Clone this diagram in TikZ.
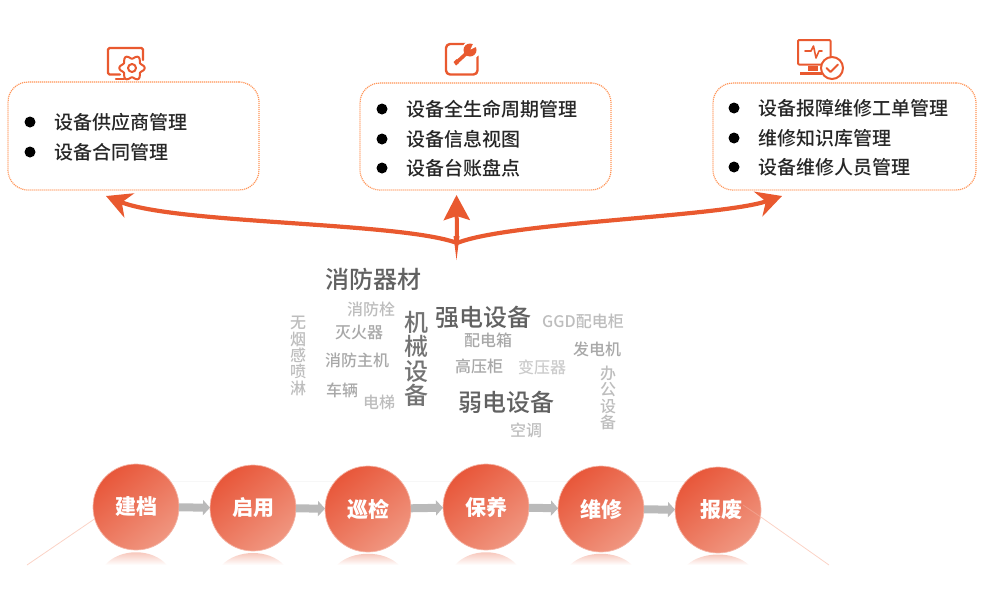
\documentclass[tikz,border=0pt]{standalone}
\usepackage{fontspec}
\usepackage{xcolor}
\setmainfont{Noto Sans CJK SC}
\newfontfamily\medfont{Noto Sans CJK SC Medium}
\usetikzlibrary{arrows.meta,positioning,calc}
\definecolor{swooshred}{HTML}{E9592F}
\definecolor{boxorange}{HTML}{FF9355}
\definecolor{stagedark}{HTML}{E8573A}
\definecolor{stagelight}{HTML}{F09680}
\definecolor{glowred}{HTML}{FBD3C6}
\tikzset{
    infobox/.style={draw=boxorange, line width=1.2pt, dash pattern=on 1.1pt off 0.9pt, rounded corners=20pt},
    bullet/.style={fill=black, circle, inner sep=0pt, minimum size=11pt},
    itemtext/.style={inner sep=0pt, text=black!85, font=\medfont\fontsize{19}{19}\selectfont},
    swoosh/.style={draw=swooshred, line width=4.2pt, -{Stealth[length=25pt,width=26pt,inset=8pt]}},
    stage/.style={circle, minimum size=86pt, inner sep=0pt, outer sep=0pt, draw=stagelight!70, line width=0.7pt,
        top color=stagedark, bottom color=stagelight, shading angle=40, text=white, font=\fontsize{21}{21}\bfseries\selectfont},
    flow/.style={draw=black!27, line width=8pt, -{Triangle[length=7pt,width=15pt]}},
    icon/.style={draw=swooshred, line width=2.4pt, line join=round, line cap=round},
    wordbig/.style={inner sep=0pt, text=black!62, font=\medfont\fontsize{24}{24.5}\selectfont, align=center},
    wordsmall/.style={inner sep=0pt, text=black!34, font=\medfont\fontsize{16}{16.4}\selectfont, align=center},
    wordpale/.style={wordsmall, text=black!26}
}
\begin{document}
\begin{tikzpicture}[x=1pt, y=-1pt, node distance=30pt]
    \useasboundingbox (0,0) rectangle (1000,600);

    % Faint band behind the stages
    \draw[black!3, line width=0.6pt] (136,481) -- (718,481);

    % Info boxes
    \node[infobox, minimum width=251pt, minimum height=108pt] (box1) at (133.5,136) {};
    \node[infobox, minimum width=251pt, minimum height=107pt] (box2) at (485.5,136.5) {};
    \node[infobox, minimum width=263pt, minimum height=107pt] (box3) at (844.5,136.5) {};

    % Items of box 1
    \node[bullet] (b1a) at (30,122) {};
    \node[bullet] (b1b) at (30,152) {};
    \node[itemtext, right=19pt of b1a] (t1a) {设备供应商管理};
    \node[itemtext, right=19pt of b1b] (t1b) {设备合同管理};

    % Items of box 2
    \node[bullet] (b2a) at (382,109) {};
    \node[bullet] (b2b) at (382,139) {};
    \node[bullet] (b2c) at (382,168) {};
    \node[itemtext, right=19pt of b2a] (t2a) {设备全生命周期管理};
    \node[itemtext, right=19pt of b2b] (t2b) {设备信息视图};
    \node[itemtext, right=19pt of b2c] (t2c) {设备台账盘点};

    % Items of box 3
    \node[bullet] (b3a) at (734,108) {};
    \node[bullet] (b3b) at (734,138) {};
    \node[bullet] (b3c) at (734,167) {};
    \node[itemtext, right=19pt of b3a] (t3a) {设备报障维修工单管理};
    \node[itemtext, right=19pt of b3b] (t3b) {维修知识库管理};
    \node[itemtext, right=19pt of b3c] (t3c) {设备维修人员管理};

    % Icon above box 1
    \draw[icon, rounded corners=1.5pt] (120,74.5) -- (108,74.5) -- (108,48) -- (143,48) -- (143,60);
    \draw[icon] (116,79) -- (124,79);
    \begin{scope}[shift={(132,68)}]
        \draw[icon, fill=white, line width=2pt] plot[domain=0:360, samples=73, smooth] (\x:{11+1.7*cos(6*\x)}) -- cycle;
        \draw[icon, line width=2pt] (0,0) circle (4pt);
    \end{scope}

    % Icon above box 2
    \draw[icon, rounded corners=4pt] (466,44) -- (446,44) -- (446,74.5) -- (477.5,74.5) -- (477.5,56);
    \draw[draw=white, line width=9pt, line cap=round] (457,62) -- (471,50);
    \fill[white] (471,50) circle (9pt);
    \draw[icon, line width=3.6pt] (457,62) -- (468,52);
    \fill[swooshred] (470,50) circle (6.5pt);
    \fill[white] (470.5,49.5) -- (480,45) -- (475,39.5) -- cycle;
    \fill[swooshred] (456.5,59) -- (453.5,62) -- (456,65.5) -- (459,63) -- cycle;

    % Icon above box 3
    \draw[icon, line width=2pt, rounded corners=1pt] (798,40) rectangle (830.5,64.5);
    \draw[icon, line width=1.6pt] (805,51) -- (811,51) -- (813.5,46) -- (816,58) -- (819,51) -- (822,51);
    \fill[swooshred] (808,66) rectangle (818,71);
    \fill[swooshred] (800,72) rectangle (822,74.5);
    \node[draw=swooshred, fill=white, line width=2pt, circle, minimum size=22pt, inner sep=0pt] (chk) at (832,68) {};
    \draw[icon, line width=2pt] (826.5,68) -- (830.5,72) -- (838,64.5);

    % Swoosh arrows to the boxes
    \coordinate (hub) at (457,243);
    \coordinate (tipl) at (106,196);
    \coordinate (tipc) at (456.5,195);
    \coordinate (tipr) at (782,196);
    \draw[swoosh] (hub) .. controls (400,222) and (175,224) .. (tipl);
    \draw[swoosh] (hub) .. controls (510,222) and (720,217) .. (tipr);
    \draw[draw=swooshred, line width=4pt, -{Stealth[length=25pt,width=26pt,inset=4pt]}] (hub) -- (tipc);
    \fill[swooshred] (453.5,236) -- (459.5,236) -- (456.5,260) -- cycle;

    % Word cloud
    \node[wordbig] (w1) at (373,279) {消防器材};
    \node[wordbig] (w2) at (483,317) {强电设备};
    \node[wordbig] (w3) at (506,402) {弱电设备};
    \node[wordbig, text=black!55] (w4) at (416,359) {机\\械\\设\\备};
    \node[wordpale] (w5) at (371,309) {消防栓};
    \node[wordsmall] (w6) at (359,333) {灭火器};
    \node[wordsmall] (w7) at (357,360) {消防主机};
    \node[wordsmall] (w8) at (342,390) {车辆};
    \node[wordpale] (w9) at (379,402) {电梯};
    \node[wordpale] (w10) at (298,356) {无\\烟\\感\\喷\\淋};
    \node[wordsmall] (w11) at (488,340) {配电箱};
    \node[wordpale] (w12) at (583,321) {GGD配电柜};
    \node[wordsmall] (w13) at (597,349) {发电机};
    \node[wordsmall] (w14) at (479,366) {高压柜};
    \node[wordpale, text=black!20] (w15) at (542,367) {变压器};
    \node[wordpale] (w16) at (608,398) {办\\公\\设\\备};
    \node[wordpale] (w17) at (526,430) {空调};

    % Stages
    \node[stage] (c1) at (136,507) {建档};
    \node[stage, right=31pt of c1, yshift=-1pt] (c2) {启用};
    \node[stage, right=29pt of c2, yshift=-1pt] (c3) {巡检};
    \node[stage, right=32pt of c3, yshift=2pt] (c4) {\raisebox{-2pt}{保养}};
    \node[stage, right=29pt of c4, yshift=-2pt] (c5) {维修};
    \node[stage, right=31pt of c5, yshift=-1pt] (c6) {\hspace*{6pt}\raisebox{3pt}{报废}};

    % Flow between stages
    \draw[flow] (c1) -- (c2);
    \draw[flow] (c2) -- (c3);
    \draw[flow] (c3) -- (c4);
    \draw[flow] (c4) -- (c5);
    \draw[flow] (c5) -- (c6);

    % Reflections under the stages
    \foreach \c in {c1,c2,c3,c4,c5,c6}
        \shade[top color=stagelight!70, bottom color=white]
            ($(\c.south |- 0,565)+(-31,0)$) .. controls ($(\c.south)+(-16,-2)$) and ($(\c.south)+(16,-2)$) .. ($(\c.south |- 0,565)+(31,0)$) -- cycle;

    % Thin lines leaving the row
    \coordinate (gl) at (27,565);
    \coordinate (gr0) at (743,505);
    \coordinate (gr) at (829,565);
    \draw[glowred, line width=0.8pt] (c1.196) -- (gl);
    \draw[glowred, line width=0.8pt, opacity=0.3] (gr0) -- (c6.-9);
    \draw[glowred, line width=0.8pt] (c6.-9) -- (gr);
\end{tikzpicture}
\end{document}
